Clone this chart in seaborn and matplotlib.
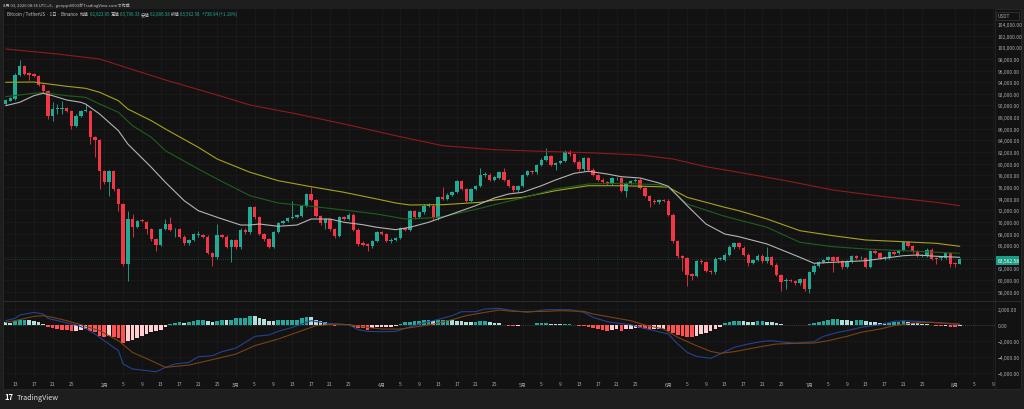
import matplotlib
matplotlib.use("Agg")
import matplotlib.pyplot as plt
from matplotlib.patches import Rectangle
import numpy as np
import pandas as pd
import seaborn as sns

# daily candles, BTC/USDT, 2026-01-11 .. 2026-08-02
start = "2026-01-11"
opens = [90256, 90828, 91114, 95295, 96842, 95500, 95400, 95009, 93520, 92546,
         88251, 89400, 89400, 89511, 89110, 86533, 88251, 89110, 89110, 84528,
         84127, 78687, 76854, 78687, 75652, 73075, 62767, 70497, 69181, 70326,
         70040, 68780, 67062, 66088, 68780, 69639, 68700, 68780, 67462, 66317,
         66890, 67806, 67806, 67462, 64600, 63913, 67806, 67462, 65745, 66890,
         65631, 68665, 68207, 72502, 70784, 67920, 67062, 65745, 68321, 69753,
         70211, 70612, 70784, 71070, 72731, 74792, 73819, 71070, 69810, 70497,
         68780, 67634, 70784, 70497, 71242, 68665, 66400, 66200, 65800, 66660,
         68207, 67920, 66660, 66947, 67233, 68952, 68665, 71815, 70784, 71643,
         72788, 72788, 70612, 74220, 73934, 74678, 75079, 76969, 75652, 73647,
         75652, 76223, 78114, 78114, 77255, 77542, 78515, 77198, 76223, 75480,
         76223, 78114, 78687, 78515, 79775, 80692, 81264, 79832, 80119, 80519,
         82066, 81665, 80348, 79088, 80921, 78973, 78114, 77255, 76911, 76625,
         77485, 77485, 75365, 76682, 76969, 77255, 75824, 74392, 73647, 73361,
         73819, 73647, 71242, 66660, 64084, 63797, 61047, 60761, 63339, 63052,
         61621, 61334, 63625, 63510, 64370, 65631, 66317, 65516, 64370, 62882,
         63453, 64198, 63224, 63912, 62652, 60933, 59904, 59904, 59904, 59444,
         60131, 58471, 61334, 62481, 63054, 63453, 63912, 63912, 63224, 62194,
         63224, 64084, 63912, 63797, 62194, 64942, 64600, 63797, 63797, 64770,
         64600, 65172, 66489, 65917, 64942, 64198, 64198, 65229, 63797, 63797,
         63797, 64656, 62900, 62823.65]
highs = [91200, 91500, 95500, 97815, 97000, 95700, 95600, 95200, 93700, 92700,
         90542, 90256, 90828, 89700, 89300, 88500, 89300, 90256, 89300, 84700,
         84300, 79000, 79000, 79000, 75900, 73300, 71929, 71356, 70400, 70500,
         70200, 69000, 67300, 69000, 70497, 70900, 69000, 69000, 67700, 67100,
         68100, 68493, 68000, 67700, 64800, 69639, 68000, 67700, 67100, 67100,
         68900, 68900, 72800, 72700, 71000, 68100, 67200, 68500, 69900, 70400,
         70800, 73647, 71400, 72900, 75000, 75938, 74000, 71200, 70700, 70700,
         69000, 71000, 71000, 71500, 71500, 68900, 66700, 66400, 66900, 68400,
         68400, 68100, 67200, 67400, 69100, 69200, 72000, 72000, 71900, 73000,
         73300, 73000, 74400, 75938, 74900, 75300, 77200, 77200, 75900, 75900,
         76400, 79260, 78500, 78400, 77900, 78700, 79300, 77400, 76400, 76400,
         78300, 78900, 78900, 80000, 80900, 82638, 81500, 80300, 80700, 82300,
         82300, 81900, 80600, 81100, 81100, 79200, 78300, 77500, 77100, 77700,
         77800, 77700, 76900, 77200, 77500, 77500, 76000, 74600, 73900, 74000,
         74000, 73900, 71500, 66900, 64300, 64000, 61300, 63500, 63600, 63300,
         61800, 63900, 64000, 64600, 66000, 66600, 66600, 65800, 64600, 63700,
         64400, 64400, 65631, 64100, 62900, 61100, 60300, 60200, 60100, 60300,
         60300, 61500, 62700, 63300, 63700, 64200, 64100, 64100, 63400, 63400,
         64300, 64300, 64200, 64000, 65100, 65200, 64800, 64100, 65000, 65000,
         65400, 66700, 66800, 66100, 65100, 64500, 65500, 65500, 64000, 64100,
         64900, 64900, 63100, 63796.33]
lows = [90000, 90700, 91000, 95000, 95200, 94300, 94900, 93300, 92300, 87678,
        87392, 88537, 88537, 88900, 85960, 86300, 88000, 88824, 83383, 81092,
        75652, 76500, 74507, 75300, 71929, 62500, 59904, 67348, 69000, 69900,
        67920, 66800, 65058, 65900, 68600, 68400, 67348, 67200, 66100, 66100,
        66700, 67462, 67300, 64400, 62481, 63700, 67300, 65500, 63054, 65400,
        65400, 68000, 68000, 70500, 67700, 66800, 65500, 65500, 68100, 69600,
        70000, 70500, 70600, 70900, 72500, 73600, 70900, 69400, 68780, 68500,
        67300, 67400, 70300, 70300, 68400, 65900, 65800, 65058, 65600, 66500,
        67700, 66500, 66400, 66800, 67000, 68400, 68400, 70500, 70600, 71400,
        72500, 70400, 70400, 73700, 73700, 74500, 74900, 75400, 73400, 73400,
        75400, 76000, 77800, 77000, 77000, 77300, 77000, 76000, 75200, 75200,
        76000, 77900, 78300, 78300, 79600, 80500, 79600, 79000, 79900, 80300,
        81400, 80100, 78800, 78800, 78700, 77900, 77000, 76600, 76400, 76400,
        77200, 75100, 74220, 76500, 76800, 75600, 74200, 72502, 73100, 73100,
        73400, 71000, 66400, 63800, 61621, 59043, 60000, 60500, 62800, 61400,
        61000, 61100, 63400, 63300, 64100, 65400, 65400, 64100, 62400, 62700,
        63200, 63000, 63000, 62400, 60700, 58070, 58470, 59600, 59200, 59200,
        58200, 57726, 61100, 62300, 62900, 63300, 61334, 63000, 61900, 62000,
        63000, 63600, 63600, 62000, 62000, 64400, 63600, 63500, 63600, 64300,
        64400, 65000, 65700, 64700, 63900, 63900, 64000, 63400, 62767, 63500,
        63600, 62300, 62300, 62806.58]
closes = [90943, 91229, 95295, 96842, 95410, 95300, 95009, 93577, 92546, 88251,
          89340, 89450, 89500, 89110, 86533, 88251, 89110, 89200, 84528, 84127,
          78687, 76854, 78687, 75652, 73075, 62767, 70497, 69181, 70211, 70097,
          68780, 67062, 66088, 68780, 69639, 68608, 68800, 67462, 66317, 66890,
          67920, 67850, 67462, 64600, 63913, 67806, 67462, 65745, 66890, 65631,
          68665, 68207, 72502, 70784, 67920, 67062, 65745, 68321, 69753, 70211,
          70612, 70784, 71185, 72731, 74792, 73819, 71070, 69810, 70497, 68780,
          67634, 70784, 70497, 71242, 68665, 66202, 66000, 65900, 66660, 68207,
          67920, 66775, 66947, 67233, 68952, 68665, 71815, 70784, 71643, 72788,
          72850, 70612, 74220, 73934, 74678, 75079, 76969, 75652, 73647, 75652,
          76223, 78114, 78150, 77255, 77656, 78515, 77198, 76223, 75480, 76223,
          78114, 78687, 78515, 79775, 80692, 81264, 79832, 80119, 80519, 82066,
          81665, 80348, 79088, 80921, 78973, 78114, 77255, 76797, 76625, 77485,
          77500, 75365, 76682, 76969, 77255, 75824, 74392, 73533, 73361, 73819,
          73647, 71242, 66660, 64084, 63797, 60933, 60761, 63224, 63052, 61621,
          61334, 63625, 63700, 64370, 65745, 66317, 65631, 64370, 62882, 63453,
          64198, 63224, 63912, 62652, 60933, 59616, 59950, 59850, 59444, 60131,
          58471, 61334, 62481, 63054, 63453, 63912, 63339, 63224, 62194, 63224,
          64084, 63797, 63950, 62194, 64942, 64600, 63797, 63850, 64770, 64484,
          65172, 66489, 65917, 64942, 64084, 64220, 65229, 63625, 63625, 63820,
          64656, 62767, 62823.65, 63562.58]

# moving averages, read at sample days
ma_white_days = [0, 3, 6, 8, 10, 13, 16, 17, 20, 24, 26, 31, 34, 38, 41, 45, 50, 52, 54, 58,
                 62, 65, 69, 72, 76, 79, 83, 86, 90, 93, 97, 100, 104, 107, 110, 114, 117,
                 121, 124, 128, 131, 135, 139, 141, 145, 149, 153, 156, 162, 169, 172, 176,
                 183, 191, 194, 198, 203]
ma_white_vals = [89964, 90548, 91682, 92094, 91682, 90943, 90548, 90256, 88538, 85669,
                 83384, 79381, 76804, 73643, 71925, 70792, 69468, 69468, 69640, 69245,
                 69468, 70499, 70499, 69932, 69520, 69073, 68661, 69073, 69932, 70792,
                 71925, 72784, 74107, 74794, 75086, 76220, 77201, 78350, 78694, 78230,
                 77766, 77543, 76684, 76117, 72800, 69640, 67922, 67458, 66204, 63919,
                 62889, 63061, 63336, 64195, 64316, 64092, 63919]
ma_green_days = [0, 6, 8, 13, 17, 20, 24, 27, 31, 34, 41, 45, 52, 58, 65, 72, 79, 85, 90,
                 93, 101, 104, 110, 117, 124, 131, 139, 141, 145, 153, 156, 162, 169, 176,
                 183, 191, 198, 203]
ma_green_vals = [91510, 92094, 92197, 91682, 91407, 90256, 88830, 86528, 84535, 82233,
                 79089, 77371, 74502, 73248, 72681, 72045, 71358, 70499, 70671, 70894,
                 72337, 72956, 74107, 75653, 76512, 76632, 76391, 75945, 73076, 70963,
                 70327, 69073, 66496, 65740, 65345, 65053, 64778, 64607]
ma_yellow_days = [0, 6, 8, 13, 17, 20, 24, 26, 31, 34, 41, 45, 52, 58, 65, 72, 79, 83, 86,
                  93, 101, 104, 110, 117, 124, 131, 139, 141, 145, 153, 156, 162, 169, 176,
                  183, 191, 198, 203]
ma_yellow_vals = [93984, 94035, 93812, 93297, 92953, 92266, 90823, 89397, 87387, 85961,
                  82817, 80807, 78522, 77079, 76048, 75086, 73935, 73248, 72904, 72956,
                  73368, 73764, 74228, 75361, 76220, 76220, 76048, 75945, 74228, 72510,
                  71925, 70499, 68489, 67630, 66891, 66599, 66324, 65809]
ma_red_days = [0, 11, 20, 26, 34, 45, 52, 62, 72, 83, 93, 104, 114, 124, 135, 142, 149,
               156, 166, 176, 187, 198, 203]
ma_red_vals = [99705, 98846, 97987, 96441, 94379, 91802, 90084, 88538, 86820, 84810,
               83092, 82405, 82130, 81889, 81494, 80807, 79484, 78522, 77079, 75481,
               74330, 73368, 72784]

# MACD pane
macd_hist = [300, 240, 500, 580, 600, 580, 450, 300, 120, -250,
             -460, -540, -620, -670, -830, -750, -620, -600, -830, -960,
             -1375, -1500, -1460, -1580, -1710, -2330, -2080, -1875, -1670, -1375,
             -1170, -960, -830, -625, -330, 80, 200, 290, 200, 290,
             420, 540, 580, 420, 290, 500, 580, 540, 580, 790,
             830, 850, 1125, 1100, 790, 750, 460, 420, 600, 625,
             625, 625, 640, 870, 917, 900, 625, 420, 290, 100,
             -125, -40, -20, 30, -250, -420, -460, -625, -420, -333,
             -300, -280, -250, -200, 40, 300, 330, 420, 440, 580,
             600, 420, 600, 625, 640, 625, 420, 400, 330, 290,
             290, 400, 420, 300, 250, 210, -50, -150, -210, -150,
             -80, -60, -30, 150, 180, 200, 120, 80, 60, 80,
             90, 10, -120, -180, -330, -420, -580, -700, -750, -620,
             -600, -750, -600, -480, -420, -440, -580, -640, -600, -500,
             -480, -800, -1100, -1300, -1450, -1580, -1580, -1375, -1200, -1000,
             -800, -560, -330, 200, 350, 450, 500, 400, 380, 350,
             420, 420, 380, 300, 180, 80, 20, -30, -40, -20,
             -50, 120, 200, 300, 450, 580, 700, 720, 600, 560,
             520, 560, 560, 420, 300, 280, 250, 220, 250, 300,
             375, 400, 300, 200, 150, 100, 80, -80, -150, -200,
             -180, -230, -250, -200]
macd_days = [0, 2, 3, 5, 6, 8, 9, 12, 15, 17, 19, 22, 24, 25, 27, 29, 32, 34, 36, 39,
             41, 44, 46, 49, 51, 53, 56, 58, 61, 63, 65, 68, 70, 73, 75, 77, 80, 83, 85,
             88, 91, 95, 97, 100, 102, 105, 108, 111, 115, 118, 120, 123, 125, 128, 130,
             133, 135, 138, 141, 143, 145, 147, 150, 152, 155, 158, 161, 163, 166, 168,
             172, 174, 177, 179, 182, 186, 189, 191, 194, 197, 200, 203]
macd_vals = [500, 792, 1208, 1417, 1542, 1333, 792, 375, -42, -458, -1167, -2417, -3250,
             -4917, -5542, -5667, -5875, -5333, -4917, -4708, -4000, -3875, -3375, -2917,
             -2208, -1458, -1292, -833, -333, 83, 500, 208, 83, 0, -625, -833, -875, -833,
             -458, 83, 500, 1125, 1625, 1625, 1958, 2042, 1750, 1542, 1875, 1875, 1875,
             1542, 917, 375, 208, 0, -333, -750, -1167, -2417, -3458, -3958, -4208, -3667,
             -2833, -2417, -2083, -2000, -2208, -2292, -2125, -1458, -958, -750, -333, 0,
             417, 500, 417, 292, 167, 0]
signal_days = [0, 2, 6, 8, 10, 13, 16, 20, 24, 27, 31, 34, 39, 43, 49, 53, 58, 63, 66, 70,
               73, 77, 80, 84, 88, 91, 95, 98, 102, 105, 108, 111, 115, 118, 123, 125, 129,
               133, 136, 140, 143, 147, 150, 152, 155, 158, 161, 164, 168, 172, 175, 179,
               182, 186, 189, 193, 197, 203]
signal_vals = [292, 500, 1042, 1125, 917, 500, 0, -750, -2000, -3458, -4500, -5333, -5042,
               -4500, -3667, -2625, -1792, -750, -125, 83, 0, -333, -542, -542, -208, 83,
               625, 1125, 1542, 1833, 1667, 1625, 1667, 1750, 1667, 1333, 917, 500, -42,
               -542, -1583, -2625, -3333, -3583, -3375, -3042, -2708, -2417, -2333, -2292,
               -2000, -1458, -958, -542, -125, 208, 292, 83]

price_ticks = list(range(58000, 104001, 2000))
macd_ticks = [2000, 0, -2000, -4000, -6000]
last_price = closes[-1]
legend_parts = [("Bitcoin / TetherUS · 1日 · Binance  ", "lab"),
                ("始値", "lab"), ("62,823.65 ", "val"),
                ("高値", "lab"), ("63,796.33 ", "val"),
                ("安値", "lab"), ("62,806.58 ", "val"),
                ("終値", "lab"), ("63,562.58 ", "val"),
                ("+738.94 (+1.18%)", "val")]

BG = "#121212"
FRAME = "#1e1e1e"
GRID = "#1b1b1b"
TXT = "#a8abb3"
UP, DOWN = "#22ab94", "#f23645"

sns.set_theme(style="dark", rc={"axes.facecolor": BG, "figure.facecolor": FRAME,
                                "axes.edgecolor": BG, "grid.color": GRID})
plt.rcParams["font.family"] = ["Noto Sans CJK JP", "DejaVu Sans"]

df = pd.DataFrame({"date": pd.date_range(start, periods=len(opens)),
                   "open": opens, "high": highs, "low": lows, "close": closes,
                   "hist": macd_hist})
df["day"] = np.arange(len(df))
df["up"] = df["close"] >= df["open"]

W, H = 1024, 410
def box(x0, y0, x1, y1):
    return [x0 / W, 1 - y1 / H, (x1 - x0) / W, (y1 - y0) / H]

fig = plt.figure(figsize=(10.24, 4.1), dpi=100)
fig.patches.append(Rectangle((3 / W, 1 - 390 / H), 1018 / W, 380 / H,
                             transform=fig.transFigure, facecolor=BG, edgecolor="#2a2a2a",
                             lw=0.6, zorder=-5))

ax = fig.add_axes(box(3.5, 10, 995, 301))
axm = fig.add_axes(box(3.5, 302, 995, 379), sharex=ax)
xlim = (-0.45, 210.5)

# x ticks: month starts and every 4th day
ext = pd.date_range(start, periods=212)
tick_pos, tick_lab = [], []
for i, dt in enumerate(ext):
    if dt.day == 1:
        tick_pos.append(i); tick_lab.append(f"{dt.month}月")
    elif dt.day in (5, 9, 13, 17, 21, 25):
        tick_pos.append(i); tick_lab.append(str(dt.day))

for a in (ax, axm):
    a.set_facecolor(BG)
    a.set_xlim(*xlim)
    a.set_xticks(tick_pos)
    a.grid(True, color=GRID, lw=0.6)
    a.yaxis.tick_right()
    a.tick_params(length=0, labelsize=3.6, labelcolor=TXT, pad=2)
    for s in a.spines.values():
        s.set_visible(False)
plt.setp(ax.get_xticklabels(), visible=False)
axm.set_xticklabels(tick_lab)
axm.tick_params(axis="x", pad=2.5)

# price pane
ax.set_ylim(56583, 106577)
ax.set_yticks(price_ticks)
ax.set_yticklabels([f"{v:,.2f}" for v in price_ticks])
cols = np.where(df["up"], UP, DOWN)
ax.vlines(df["day"], df["low"], df["high"], colors=cols, lw=0.6, zorder=2)
body_lo = np.minimum(df["open"], df["close"])
body_h = np.maximum(np.abs(df["close"] - df["open"]), 90)
ax.bar(df["day"], body_h, bottom=body_lo, width=0.72, color=cols, lw=0, zorder=2)

for d, v, c in [(ma_red_days, ma_red_vals, "#8e1b1b"),
                (ma_yellow_days, ma_yellow_vals, "#a6a21c"),
                (ma_green_days, ma_green_vals, "#1f5f1f"),
                (ma_white_days, ma_white_vals, "#b4b4b4")]:
    sns.lineplot(x=d, y=v, ax=ax, color=c, linewidth=0.8, zorder=3)
ax.axhline(last_price, color=UP, lw=0.5, ls=(0, (1, 2)), alpha=0.6, zorder=1)
ax.set_xlabel(""); ax.set_ylabel("")

# MACD pane
axm.set_ylim(-6662, 2960)
axm.set_yticks(macd_ticks)
axm.set_yticklabels([f"{v:,.2f}".replace("-", "−") for v in macd_ticks])
hist = df["hist"].to_numpy()
prev = np.r_[hist[0] + 1, hist[:-1]]
hcols = np.where(hist >= 0, np.where(hist >= prev, "#26a69a", "#b2dfdb"),
                 np.where(hist > prev, "#ffcdd2", "#ff5252"))
axm.bar(df["day"], hist, width=0.78, color=hcols, lw=0, zorder=2)
axm.axhline(0, color="#555555", lw=0.5, ls=(0, (1, 2)), zorder=1)
sns.lineplot(x=macd_days, y=macd_vals, ax=axm, color="#24428f", linewidth=0.8, zorder=3)
sns.lineplot(x=signal_days, y=signal_vals, ax=axm, color="#7a4214", linewidth=0.8, zorder=3)
axm.set_xlabel(""); axm.set_ylabel("")

# separators
fig.add_artist(plt.Line2D([995 / W, 995 / W], [1 - 390 / H, 1 - 10 / H], color="#262626", lw=0.6))
fig.add_artist(plt.Line2D([3 / W, 1021 / W], [1 - 301.5 / H, 1 - 301.5 / H], color="#2a2a2a", lw=0.8))

# price tag and unit box on the right scale
fig.patches.append(Rectangle((996 / W, 1 - 265.5 / H), 23 / W, 8.5 / H, transform=fig.transFigure,
                             facecolor="#1a9b84", edgecolor="none", zorder=5))
fig.text(997.5 / W, 1 - 261.3 / H, f"{last_price:,.2f}", color="white", fontsize=3.6,
         va="center", ha="left", zorder=6)
fig.patches.append(Rectangle((996 / W, 1 - 20.5 / H), 23 / W, 8 / H, transform=fig.transFigure,
                             facecolor=BG, edgecolor="#3a3a3a", lw=0.5, zorder=5))
fig.text(998 / W, 1 - 16.5 / H, "USDT", color=TXT, fontsize=3.4, va="center", zorder=6)

# header, legend, footer
fig.text(3 / W, 1 - 5 / H, "8月 03, 2026 08:36 UTC+9、gooppi0003がTradingView.comで作成",
         color="#c8c8c8", fontsize=3.0, va="center")
renderer = fig.canvas.get_renderer()
lx = 7
for txt, kind in legend_parts:
    t = fig.text(lx / W, 1 - 14.7 / H, txt, color=UP if kind == "val" else "#c8c8c8",
                 fontsize=3.2, va="center")
    lx += t.get_window_extent(renderer).width + 0.5

fig.text(4 / W, 1 - 398 / H, "17", color="white", fontsize=5.5, fontweight="bold", va="center")
fig.text(17 / W, 1 - 398 / H, "TradingView", color="#e0e0e0", fontsize=5.2, va="center")

fig.savefig("out.png", dpi=100, facecolor=FRAME)
